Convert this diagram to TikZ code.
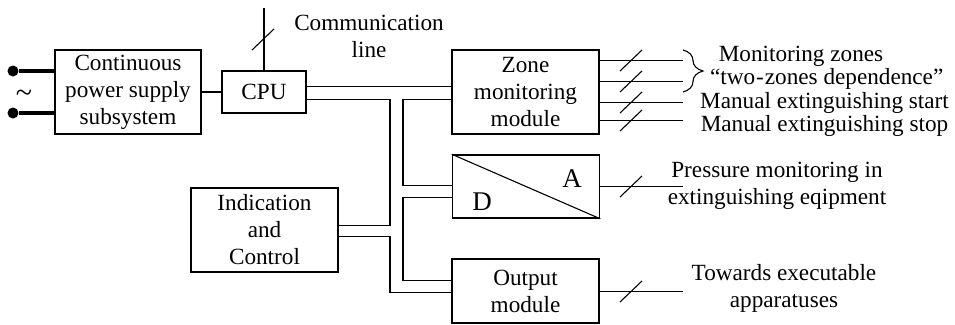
\documentclass[tikz,border=0pt]{standalone}
\usepackage{fontspec}
\setmainfont{Liberation Serif}
\usetikzlibrary{calc,decorations.pathreplacing}
\begin{document}
\begin{tikzpicture}[
x=1pt,y=-1pt,
line width=1.1pt,
box/.style={rectangle, draw, line width=1.6pt, inner sep=0pt, align=center, font=\fontsize{23.2}{27}\selectfont,
  execute at begin node={\vspace*{4pt}}},
label/.style={inner sep=0pt, align=center, font=\fontsize{23.2}{27}\selectfont},
oneline/.style={label, anchor=base},
letter/.style={inner sep=0pt, font=\fontsize{27}{27}\selectfont},
termdot/.style={circle, fill=black, inner sep=0pt, minimum size=11pt},
mains/.style={line width=3.2pt},
]
\useasboundingbox (0,0) rectangle (955,324);
%Nodes
\node[box,minimum width=146pt,minimum height=84pt](power) at (128,92){Continuous\\power supply\\subsystem};
\node[box,minimum width=84pt,minimum height=42pt](cpu) at (264,92){CPU};
\node[box,minimum width=147pt,minimum height=84pt](ind) at (264.5,230){Indication\\and\\Control};
\node[box,minimum width=147pt,minimum height=84pt](zone) at (525.5,92){Zone\\monitoring\\module};
\node[box,minimum width=147pt,minimum height=63pt](da) at (526,186.5){};
\node[box,minimum width=147pt,minimum height=64pt](out) at (525.5,291){Output\\module};
\node[letter](a) at (572,179){A};
\node[letter](d) at (482,201.5){D};
\node[termdot](t1) at (13,71){};
\node[termdot](t2) at (13,113){};
\node[label,font=\fontsize{30}{30}\selectfont](ac) at (24,96){\textasciitilde};
\node[label](comm) at (369,36.5){Communication\\line};
\node[oneline](mz) at (801,61.7){Monitoring zones};
\node[oneline](tz) at (826.7,84){“two\kern1pt-\kern1pt zones dependence”};
\node[oneline](ms) at (824.5,108.7){Manual extinguishing start};
\node[oneline](mp) at (824.5,131.7){Manual extinguishing stop};
\node[label](pm) at (777,186){Pressure monitoring in\\extinguishing eqipment};
\node[label](ta) at (784,288.5){Towards executable\\apparatuses};

%Free ends and bends
\coordinate (top) at (264,8);
\coordinate (cpub) at (390,99.5);
\coordinate (indb) at (390,225.5);
\coordinate (indc) at (390,236.5);
\coordinate (outc) at (390,292.5);
\coordinate (zoned) at (403,99.5);
\coordinate (dad) at (403,185.5);
\coordinate (dae) at (403,197.5);
\coordinate (oute) at (403,280.5);
\coordinate (zoa) at (683,60.5);
\coordinate (zob) at (683,81.5);
\coordinate (zoc) at (683,102.5);
\coordinate (zod) at (683,120.5);
\coordinate (daa) at (683,186.5);
\coordinate (oua) at (683,291.5);

\draw[mains] (t1) -- (power.west |- t1);
\draw[mains] (t2) -- (power.west |- t2);
\draw (power) -- (cpu);
\draw (cpu) -- (top);
\draw (cpu.east |- 0,86.5) -- (zone.west |- 0,86.5);
\draw (cpu.east |- cpub) -- (cpub) -- (indb) -- (ind.east |- indb);
\draw (ind.east |- indc) -- (indc) -- (outc) -- (out.west |- outc);
\draw (zone.west |- zoned) -- (zoned) -- (dad) -- (da.west |- dad);
\draw (da.west |- dae) -- (dae) -- (oute) -- (out.west |- oute);
\draw (da.north west) -- (da.south east);

%Outputs with slashes
\foreach \e/\b in {zoa/zone,zob/zone,zoc/zone,zod/zone,daa/da,oua/out}{
  \draw (\b.east |- \e) -- (\e);
  \draw ($(\e)+(-63,10.5)$) -- ($(\e)+(-41,-10.5)$);
}
\draw ($(top)+(-12,42)$) -- ($(top)+(10,21)$);

\draw[decorate,decoration={brace,amplitude=20pt}] (683,50) -- (683,92);
\end{tikzpicture}
\end{document}
